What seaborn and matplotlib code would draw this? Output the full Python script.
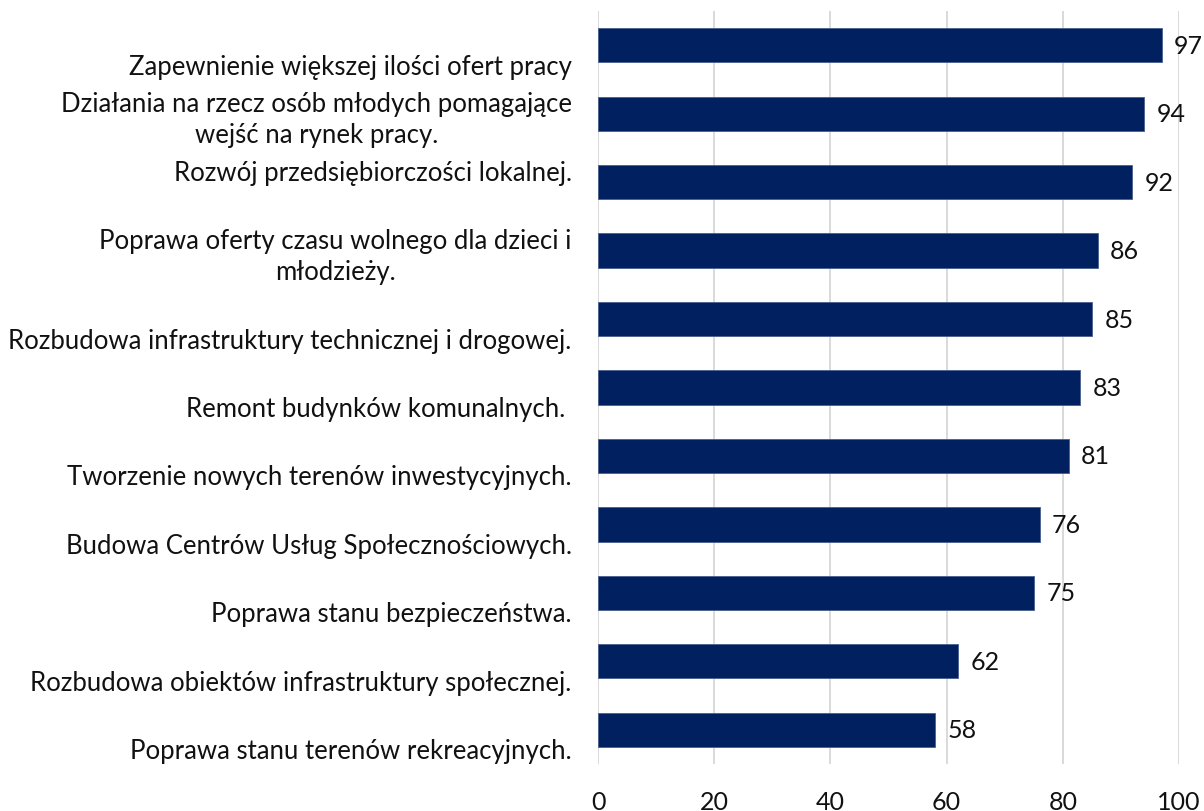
import pandas as pd
import matplotlib
matplotlib.use("Agg")
import matplotlib.pyplot as plt
import seaborn as sns

# chart data, top to bottom
categories = [
    "\nZapewnienie większej ilości ofert pracy",
    "Działania na rzecz osób młodych pomagające\nwejść na rynek pracy.",
    "Rozwój przedsiębiorczości lokalnej.\n",
    "Poprawa oferty czasu wolnego dla dzieci i\nmłodzieży.",
    "\nRozbudowa infrastruktury technicznej i drogowej.",
    "\nRemont budynków komunalnych. ",
    "\nTworzenie nowych terenów inwestycyjnych.",
    "\nBudowa Centrów Usług Społecznościowych.",
    "\nPoprawa stanu bezpieczeństwa.",
    "\nRozbudowa obiektów infrastruktury społecznej.",
    "\nPoprawa stanu terenów rekreacyjnych.",
]
values = [97, 94, 92, 86, 85, 83, 81, 76, 75, 62, 58]
x_ticks = [0, 20, 40, 60, 80, 100]

df = pd.DataFrame({"kategoria": categories, "wartosc": values})

sns.set_style("white")
plt.rcParams["font.family"] = ["Lato", "DejaVu Sans"]

fig = plt.figure(figsize=(12.04, 8.12), dpi=100)
ax = fig.add_axes([0.4967, 0.0579, 0.4825, 0.9273])

sns.barplot(data=df, x="wartosc", y="kategoria", orient="h", color="#002060",
            width=0.5, saturation=1, edgecolor="#4a5f8f", linewidth=0.6, ax=ax)

ax.bar_label(ax.containers[0], labels=[str(v) for v in values], padding=9,
             fontsize=18, color="#111111")

ax.set_xlim(0, 100)
ax.set_xticks(x_ticks)
ax.grid(axis="x", color="#d9d9d9", linewidth=1.4)
ax.set_axisbelow(True)
for s in ax.spines.values():
    s.set_visible(False)
ax.set_xlabel("")
ax.set_ylabel("")
ax.tick_params(axis="x", length=0, pad=19, labelsize=18, labelcolor="#111111")
ax.tick_params(axis="y", length=0, pad=19, labelsize=18.5, labelcolor="#111111")
for lab in ax.get_yticklabels():
    lab.set_multialignment("center")
    lab.set_linespacing(1.3)

fig.savefig("out.png", dpi=100)
